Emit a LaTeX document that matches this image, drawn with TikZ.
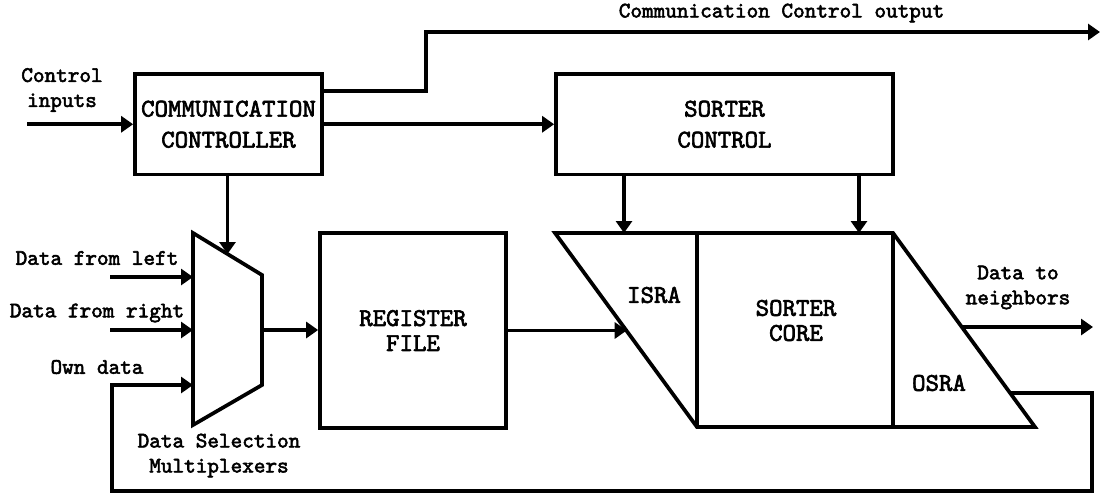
\documentclass[tikz,border=0pt]{standalone}
\usepackage{fontspec}
\newfontfamily\courfont{lmmono10-regular.otf}[FakeBold=2.5]
\usetikzlibrary{arrows.meta,calc}

\newcommand{\bigtxt}{\fontsize{19.2}{18.75}\selectfont\courfont}
\newcommand{\smalltxt}{\fontsize{16.6}{18.75}\selectfont\courfont}

\begin{document}
\begin{tikzpicture}[x=0.75pt,y=-0.75pt,line width=2.8pt,
  >={Triangle[length=9pt,width=12pt]},
  box/.style={draw,inner sep=0pt,align=center,font=\bigtxt},
  big/.style={align=center,font=\bigtxt},
  lbl/.style={align=center,font=\smalltxt}]
\useasboundingbox (0,0) rectangle (1102,497);
% control blocks
\node[box,minimum width=140.25pt,minimum height=75.375pt] (comm) at (228.5,124.25) {COMMUNICATION\\[4.5pt]CONTROLLER};
\node[box,minimum width=252.75pt,minimum height=75.375pt] (sctl) at (724.5,124.25) {SORTER\\[4.5pt]CONTROL};
\node[lbl] (cin) at (62,90) {Control\\inputs};
\coordinate (cinp) at (27,124.25);
\draw[->] (cinp) -- (comm.west);
\draw[->] (comm) -- (sctl);
\coordinate (bend) at (426,91);
\coordinate (ccend) at (1100,32);
\draw[->] (bend -| comm.east) -- (bend) -- (bend |- ccend) -- (ccend);
\node[lbl] (ccout) at (781.5,13) {Communication Control output};
% multiplexer
\coordinate (mux-a) at (193,233);
\coordinate (mux-b) at (262,275);
\coordinate (mux-c) at (262,385);
\coordinate (mux-d) at (193,425);
\draw (mux-a) -- (mux-b) -- (mux-c) -- (mux-d) -- cycle;
\coordinate (muxin) at ($(mux-a)!0.5!(mux-b)$);
\coordinate (muxout) at ($(mux-b)!0.5!(mux-c)$);
\draw[->] (muxin |- comm.south) -- (muxin);
\node[lbl] (dleft) at (97,258) {Data from left};
\node[lbl] (dright) at (97,313) {Data from right};
\node[lbl] (downd) at (97,367) {Own data};
\node[lbl] (dsel) at (219,455.5) {Data Selection\\Multiplexers};
\coordinate (inl) at (110,277);
\coordinate (inr) at (110,330);
\draw[->] (inl) -- (inl -| mux-a);
\draw[->] (inr) -- (inr -| mux-a);
% register file
\node[box,minimum width=139.5pt,minimum height=146.25pt] (rf) at (413,330.5) {REGISTER\\FILE};
\draw[->] (muxout) -- (muxout -| rf.west);
% sorter
\coordinate (isra-a) at (555,233);
\coordinate (core-a) at (697,233);
\coordinate (core-b) at (893,233);
\coordinate (core-c) at (893,427);
\coordinate (core-d) at (697,427);
\coordinate (osra-c) at (1035,427);
\draw (isra-a) -- (core-b) -- (osra-c) -- (core-d) -- cycle;
\draw (core-a) -- (core-d) (core-b) -- (core-c);
\node[big] (isra) at (654,295) {ISRA};
\node[big] (core) at (796,320.5) {SORTER\\CORE};
\node[big] (osra) at (939,383) {OSRA};
\coordinate (isin) at ($(isra-a)!0.505!(core-d)$);
\draw[->] (rf.east) -- (rf.east -| isin);
\coordinate (sa) at (624,233);
\coordinate (sb) at (859,233);
\draw[->] (sa |- sctl.south) -- (sa);
\draw[->] (sb |- sctl.south) -- (sb);
% outputs
\coordinate (dout) at ($(core-b)!0.485!(osra-c)$);
\coordinate (dend) at (1093,327);
\draw[->] (dout) -- (dend);
\node[lbl] (dtn) at (1018,287.5) {Data to\\neighbors};
\coordinate (fb) at ($(core-b)!0.825!(osra-c)$);
\coordinate (fbr) at (1092,491);
\coordinate (own) at (112,385);
\draw[->] (fb) -- (fb -| fbr) -- (fbr) -- (fbr -| own) -- (own) -- (own -| mux-a);
\end{tikzpicture}
\end{document}
